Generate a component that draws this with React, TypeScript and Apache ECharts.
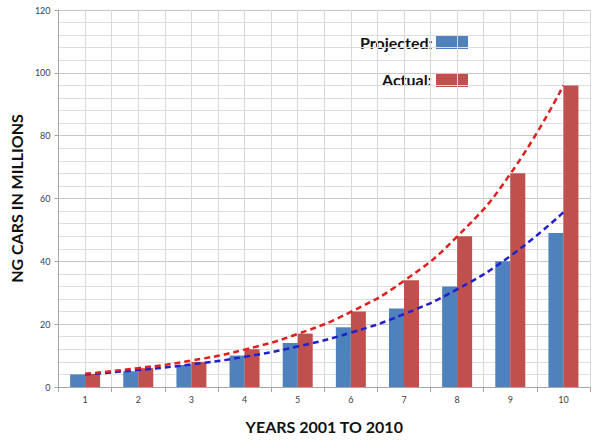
import React, { useEffect, useRef } from "react";
import * as echarts from "echarts";

const categories = ["1", "2", "3", "4", "5", "6", "7", "8", "9", "10"];
const projected = [4, 5, 7, 10, 14, 19, 25, 32, 40, 49];
const actual = [4.2, 6, 8, 12, 17, 24, 34, 48, 68, 96];
const projectedTrend = [4, 5.4, 7.2, 9.6, 12.9, 17.3, 23.2, 31.1, 41.7, 55.6];
const actualTrend = [4.2, 6.0, 8.4, 11.9, 16.9, 23.9, 33.8, 47.9, 67.8, 96];

const BLUE = "#4f81bd";
const RED = "#c0504d";
const FONT = "Lato, 'Open Sans', sans-serif";

export default function App() {
  const ref = useRef<HTMLDivElement>(null);
  useEffect(() => {
    if (!ref.current) return;
    const chart = echarts.init(ref.current, null, { renderer: "svg" });
    chart.setOption({
      animation: false,
      backgroundColor: "#ffffff",
      grid: { left: 58, right: 10, top: 10, bottom: 54, containLabel: false },
      xAxis: [
        {
          type: "category",
          data: categories,
          boundaryGap: true,
          axisLine: { show: true, lineStyle: { color: "#a6a6a6" } },
          axisTick: { show: true, length: 5, lineStyle: { color: "#a6a6a6" } },
          axisLabel: { color: "#404040", fontSize: 9, fontFamily: FONT, margin: 8 },
          splitLine: { show: true, interval: 0, lineStyle: { color: "#c8c8c8" } },
          name: "YEARS 2001 TO 2010",
          nameLocation: "middle",
          nameGap: 31,
          nameTextStyle: { color: "#111", fontSize: 16, fontWeight: "bold", fontFamily: FONT },
        },
        {
          type: "value",
          min: 0,
          max: 20,
          interval: 1,
          show: true,
          position: "top",
          axisLine: { show: false },
          axisTick: { show: false },
          axisLabel: { show: false },
          splitLine: { show: true, lineStyle: { color: "#d9d9d9" } },
        },
      ],
      yAxis: {
        type: "value",
        min: 0,
        max: 120,
        interval: 20,
        axisLine: { show: true, lineStyle: { color: "#a6a6a6" } },
        axisTick: { show: true, length: 4, lineStyle: { color: "#a6a6a6" } },
        axisLabel: { color: "#404040", fontSize: 9, fontFamily: FONT, margin: 8 },
        splitLine: { show: true, lineStyle: { color: "#c8c8c8" } },
        minorTick: { show: false, splitNumber: 5 },
        minorSplitLine: { show: true, lineStyle: { color: "#dedede" } },
        name: "NG CARS IN MILLIONS",
        nameLocation: "middle",
        nameGap: 28,
        nameTextStyle: { color: "#111", fontSize: 16, fontWeight: "bold", fontFamily: FONT },
      },
      series: [
        {
          name: "Projected",
          type: "bar",
          xAxisIndex: 0,
          data: projected,
          barWidth: 15,
          barGap: "0%",
          itemStyle: { color: BLUE },
          z: 2,
        },
        {
          name: "Actual",
          type: "bar",
          xAxisIndex: 0,
          data: actual,
          barWidth: 15,
          barGap: "0%",
          itemStyle: { color: RED },
          z: 2,
        },
        {
          name: "Projected trend",
          type: "line",
          xAxisIndex: 0,
          data: projectedTrend,
          smooth: true,
          symbol: "none",
          lineStyle: { color: "#2020cc", width: 2.5, type: [6, 4] },
          z: 3,
        },
        {
          name: "Actual trend",
          type: "line",
          xAxisIndex: 0,
          data: actualTrend,
          smooth: true,
          symbol: "none",
          lineStyle: { color: "#e02020", width: 2.5, type: [6, 4] },
          z: 3,
        },
      ],
      graphic: [
        {
          type: "text",
          left: 360,
          top: 34,
          style: { text: "Projected:", fill: "#111", font: `bold 16px ${FONT}`, textAlign: "left" },
        },
        {
          type: "rect",
          shape: { x: 436, y: 36, width: 32, height: 13 },
          style: { fill: BLUE },
        },
        {
          type: "text",
          left: 382,
          top: 71,
          style: { text: "Actual:", fill: "#111", font: `bold 16px ${FONT}`, textAlign: "left" },
        },
        {
          type: "rect",
          shape: { x: 436, y: 74, width: 32, height: 13 },
          style: { fill: RED },
        },
      ],
    });
    return () => chart.dispose();
  }, []);
  return <div ref={ref} style={{ width: 600, height: 441, position: "absolute", left: 0, top: 0 }} />;
}
